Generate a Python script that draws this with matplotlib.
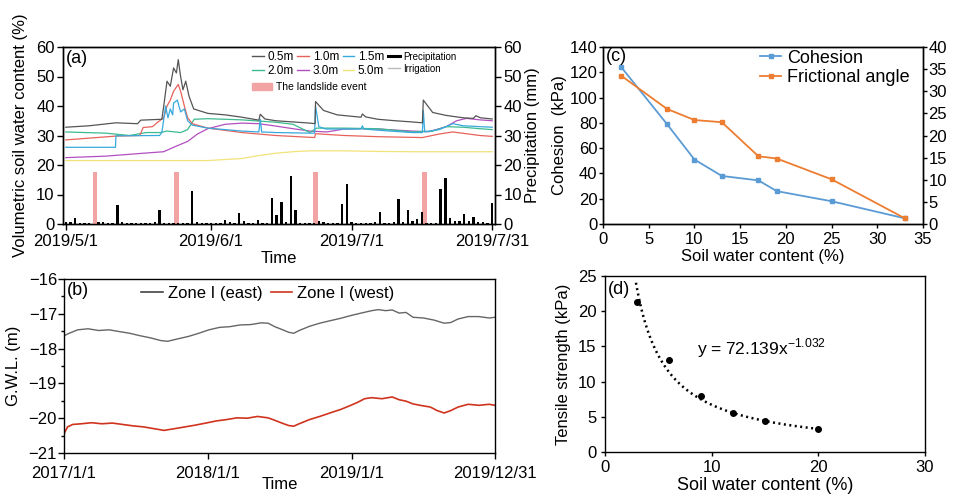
import numpy as np
import matplotlib
matplotlib.use('Agg')
import matplotlib.pyplot as plt
from matplotlib.lines import Line2D
from matplotlib.patches import Patch
from matplotlib.ticker import MultipleLocator, FixedLocator

plt.rcParams['font.family'] = ['Liberation Sans', 'DejaVu Sans']
plt.rcParams['axes.linewidth'] = 1.0

# ---------------- Panel (a): soil water content & precipitation ----------------
a_tick_days = [0, 31, 61, 91]
a_tick_labels = ['2019/5/1', '2019/6/1', '2019/7/1', '2019/7/31']

d05 = [0, 5, 10.7, 15.3, 16, 20.5, 20.9, 21.6, 22.3, 23, 23.6, 24.0, 24.5, 25, 25.6, 26.3, 27.3, 30.3,
       34, 37.6, 41.2, 41.5, 42.5, 44.8, 52.1, 53.2, 53.3, 55, 57.9, 63, 63.3, 64, 66.6, 70.3, 73.9,
       76.1, 76.3, 78.3, 81.2, 84.8, 87, 87.5, 88.5, 91]
v05 = [32.8, 33.3, 34.3, 34.0, 35.2, 35.5, 40.0, 48.4, 46.7, 52.9, 51.2, 55.7, 50.0, 45.5, 48.4, 43.3,
       39.0, 37.5, 37.0, 36.2, 35.2, 37.2, 35.6, 35.0, 34.2, 34.0, 41.5, 38.5, 37.0, 36.2, 37.3, 36.3,
       35.5, 35.0, 34.6, 34.3, 42.0, 37.8, 36.8, 36.0, 35.8, 36.7, 36.0, 35.6]

d10 = [0, 10.7, 15.8, 16.5, 18.5, 19.6, 20.9, 21.6, 22.3, 23, 24.0, 24.5, 25.3, 26, 27, 30.3, 37.6, 44.8,
       53.1, 53.3, 59.4, 66.6, 76.1, 79.7, 82.6, 88.4, 91]
v10 = [28.5, 29.8, 30.0, 32.7, 33.0, 34.5, 36, 40, 42, 45, 47.3, 45, 40, 36, 34, 32.5, 31, 30, 29.3, 30.6,
       30.0, 29.6, 29.3, 30.5, 31.2, 30.0, 29.7]

d15 = [0, 10.6, 10.7, 20.0, 20.5, 21.3, 21.8, 22.3, 22.8, 23.0, 23.8, 24.5, 25.3, 26.0, 27.0, 30.3, 37.6,
       41.2, 41.5, 41.8, 44.8, 52.1, 53.1, 53.3, 54.0, 55.5, 63.0, 63.3, 63.6, 66.6, 73.9, 76.1, 76.3,
       76.6, 79.7, 82.6, 84.8, 88.4, 91]
v15 = [26, 26, 29.9, 30, 31, 40, 36, 39, 37, 41, 42, 38, 39, 35, 33.5, 32.5, 31.5, 31.2, 35.5, 31.2, 31.0,
       30.8, 30.8, 40, 33, 32.2, 32.2, 33.3, 32.2, 31.8, 31.0, 31.0, 38.5, 31.2, 32.0, 34.0, 33.3, 33.0,
       32.8]

d20 = [0, 8.5, 13.6, 17.2, 20.1, 21.6, 24.5, 26.0, 27.4, 30.3, 37.6, 44.8, 48.5, 52.1, 53.5, 59.4, 66.6,
       73.9, 78.3, 81.2, 84.8, 88.4, 91]
v20 = [31.2, 30.8, 30.0, 31.0, 31.0, 31.5, 31.0, 32.0, 35.5, 35.7, 35.3, 34.5, 33.8, 31.0, 32.5, 32.5,
       32.3, 31.2, 31.5, 33.0, 32.8, 32.3, 32.0]

d30 = [0, 8.5, 15.8, 20.9, 23.0, 26.0, 28.1, 30.3, 34.0, 37.6, 41.2, 44.8, 48.5, 52.1, 55.7, 59.4, 63.0,
       66.6, 73.9, 77.5, 81.2, 83.4, 85.5, 88.4, 91]
v30 = [22.5, 23.0, 23.9, 24.5, 26.0, 28.0, 30.5, 32.3, 33.8, 34.2, 34.0, 33.2, 32.3, 31.5, 31.2, 32.2,
       32.3, 32.2, 31.5, 31.3, 33.0, 35.0, 35.8, 35.3, 35.0]

d50 = [0, 30.3, 37.6, 41.2, 44.8, 48.5, 52.1, 59.4, 66.6, 73.9, 81.2, 91]
v50 = [21.5, 21.5, 22.2, 23.2, 24.0, 24.5, 24.8, 24.8, 24.6, 24.5, 24.5, 24.5]

precip_mm = [0.6, 0.6, 2.1, 0.5, 0.2, 0.2, 0.0, 0.8, 0.6, 0.3, 0.3, 6.4, 0.6, 0.3, 0.2, 0.2, 0.2, 0.2,
             0.3, 0.6, 4.9, 0.3, 0.2, 0.2, 0.2, 0.3, 0.3, 11.2, 0.8, 0.4, 0.3, 0.3, 0.3, 0.4, 1.4, 0.6,
             0.3, 3.8, 0.9, 0.3, 0.3, 1.2, 0.4, 0.3, 8.8, 2.9, 7.6, 0.6, 16.2, 4.9, 0.3, 0.3, 0.3, 0.3,
             0.9, 0.8, 0.3, 0.2, 0.2, 6.7, 13.5, 0.6, 0.4, 0.3, 0.3, 0.3, 0.7, 4.0, 0.3, 0.3, 0.6, 8.6,
             0.6, 4.6, 1.0, 1.6, 3.9, 0.3, 0.3, 0.4, 11.8, 15.5, 2.1, 0.9, 1.0, 3.3, 0.9, 2.4, 0.6, 0.6,
             0.5, 7.1]
precip_days = list(range(len(precip_mm)))

landslide_days = [6.2, 23.6, 53.3, 76.6]
landslide_h = [17.5, 17.5, 17.5, 17.5]

# ---------------- Panel (b): groundwater level ----------------
b_tick_days = [0, 365, 730, 1094]
b_tick_labels = ['2017/1/1', '2018/1/1', '2019/1/1', '2019/12/31']

east_days = [0, 13, 35, 61, 88, 114, 140, 167, 193, 219, 246, 263, 289, 316, 342, 368, 395, 421, 447,
             474, 500, 518, 535, 553, 570, 583, 597, 623, 649, 675, 702, 728, 754, 781, 798, 816, 833,
             851, 868, 886, 912, 939, 965, 982, 1000, 1026, 1053, 1079, 1094]
east_gwl = [-17.63, -17.56, -17.46, -17.43, -17.48, -17.46, -17.51, -17.56, -17.63, -17.69, -17.77,
            -17.79, -17.72, -17.65, -17.56, -17.46, -17.39, -17.37, -17.32, -17.31, -17.26, -17.27,
            -17.37, -17.45, -17.53, -17.56, -17.48, -17.36, -17.27, -17.20, -17.13, -17.05, -16.98,
            -16.91, -16.88, -16.91, -16.89, -16.98, -16.96, -17.10, -17.12, -17.18, -17.27, -17.25,
            -17.15, -17.08, -17.08, -17.12, -17.10]

west_days = [0, 9, 22, 44, 70, 96, 123, 149, 175, 202, 228, 254, 281, 307, 333, 360, 386, 412, 439, 465,
             491, 518, 535, 553, 570, 583, 597, 623, 649, 675, 702, 728, 746, 763, 781, 807, 833, 851,
             868, 886, 904, 930, 947, 965, 982, 1000, 1026, 1053, 1079, 1094]
west_gwl = [-20.45, -20.25, -20.18, -20.16, -20.13, -20.16, -20.14, -20.18, -20.22, -20.25, -20.30,
            -20.35, -20.30, -20.25, -20.20, -20.14, -20.08, -20.04, -19.99, -20.00, -19.95, -19.99,
            -20.06, -20.14, -20.21, -20.23, -20.16, -20.04, -19.95, -19.85, -19.75, -19.63, -19.54,
            -19.44, -19.41, -19.44, -19.39, -19.47, -19.51, -19.59, -19.63, -19.68, -19.78, -19.85,
            -19.78, -19.68, -19.60, -19.63, -19.60, -19.63]

# ---------------- Panel (c): cohesion & frictional angle ----------------
c_swc = [2, 7, 10, 13, 17, 19, 25, 33]
cohesion = [124, 79, 51, 38, 34.5, 26, 18, 4.5]
fric_angle = [33.5, 26.0, 23.5, 23.0, 15.3, 14.8, 10.1, 1.3]

# ---------------- Panel (d): tensile strength ----------------
d_swc = [3, 6, 9, 12, 15, 20]
tensile = [21.3, 13.0, 7.9, 5.5, 4.4, 3.3]
fit_a = 72.139
fit_b = -1.032
fit_xmin, fit_xmax = 2.9, 20.0

# ---------------- Figure ----------------
fig = plt.figure(figsize=(9.54, 4.96), dpi=100)
W, H = 954.0, 496.0

def axpos(l, t, r, b):
    return [l / W, 1 - b / H, (r - l) / W, (b - t) / H]

col = {'0.5m': '#555555', '1.0m': '#e8625c', '1.5m': '#38a9dc',
       '2.0m': '#3dbb8f', '3.0m': '#b24fc0', '5.0m': '#f2e27a'}
pink = '#f2a3a3'
TS = 12

# ---- (a)
ax = fig.add_axes(axpos(63, 47, 495, 224))
ax.plot(d50, v50, color=col['5.0m'], lw=0.9)
ax.plot(d30, v30, color=col['3.0m'], lw=0.9)
ax.plot(d20, v20, color=col['2.0m'], lw=0.9)
ax.plot(d10, v10, color=col['1.0m'], lw=0.9)
ax.plot(d15, v15, color=col['1.5m'], lw=0.9)
ax.plot(d05, v05, color=col['0.5m'], lw=0.9)
ax.set_xlim(-0.6, 91.6)
ax.set_ylim(0, 60)
ax.yaxis.set_major_locator(MultipleLocator(10))
ax.xaxis.set_major_locator(FixedLocator(a_tick_days))
ax.set_xticklabels(a_tick_labels)
ax.tick_params(direction='out', length=4, width=1, labelsize=TS, pad=2)
ax.tick_params(axis='x', pad=3)
ax.set_ylabel('Volumetric soil water content (%)', fontsize=12)
ax.yaxis.set_label_coords(-0.081, 0.5)
ax.set_xlabel('Time', fontsize=12)
ax.xaxis.set_label_coords(0.5, -0.155)
ax.text(0.006, 0.985, '(a)', transform=ax.transAxes, ha='left', va='top', fontsize=13)

ax2 = ax.twinx()
ax2.bar(landslide_days, landslide_h, width=1.0, color=pink, zorder=2)
ax2.bar(precip_days, precip_mm, width=0.5, color='black', zorder=3)
ax2.set_ylim(0, 60)
ax2.yaxis.set_major_locator(MultipleLocator(10))
ax2.tick_params(direction='out', length=4, width=1, labelsize=TS, pad=2)
ax2.set_ylabel('Precipitation (mm)', fontsize=12)
ax2.yaxis.set_label_coords(1.069, 0.5)

hs = [Line2D([], [], color=col['0.5m'], lw=1), Line2D([], [], color=col['2.0m'], lw=1),
      Line2D([], [], color=col['1.0m'], lw=1), Line2D([], [], color=col['3.0m'], lw=1),
      Line2D([], [], color=col['1.5m'], lw=1), Line2D([], [], color=col['5.0m'], lw=1),
      Line2D([], [], color='black', lw=2.2), Line2D([], [], color='#bbbbbb', lw=1)]
ls = ['0.5m', '2.0m', '1.0m', '3.0m', '1.5m', '5.0m', 'Precipitation', 'Irrigation']
leg = ax.legend(hs, ls, ncol=4, loc='upper left', bbox_to_anchor=(0.4375, 0.975), frameon=False,
                fontsize=8.5, handlelength=1.0, handletextpad=0.3, columnspacing=0.3,
                labelspacing=0.15, borderpad=0, borderaxespad=0)
for t in leg.get_texts()[6:]:
    t.set_fontsize(7)
ax.add_artist(leg)
leg2 = ax.legend([Patch(color=pink)], ['The landslide event'], loc='upper left',
                 bbox_to_anchor=(0.4375, 0.80), frameon=False, fontsize=7.5, handlelength=1.9,
                 handleheight=0.6, handletextpad=0.4, borderpad=0, borderaxespad=0)

# ---- (b)
bx = fig.add_axes(axpos(64, 279, 495, 453))
bx.plot(east_days, east_gwl, color='#666666', lw=1.0)
bx.plot(west_days, west_gwl, color='#d0341f', lw=1.2)
bx.set_xlim(0, 1094)
bx.set_ylim(-21, -16)
bx.yaxis.set_major_locator(MultipleLocator(1))
bx.yaxis.set_minor_locator(MultipleLocator(0.5))
bx.xaxis.set_major_locator(FixedLocator(b_tick_days))
bx.set_xticklabels(b_tick_labels)
bx.tick_params(direction='out', length=4, width=1, labelsize=TS, pad=1)
bx.tick_params(axis='x', pad=5)
bx.tick_params(which='minor', direction='out', length=2.5, width=1)
bx.set_ylabel('G.W.L. (m)', fontsize=12)
bx.yaxis.set_label_coords(-0.1, 0.5)
bx.set_xlabel('Time', fontsize=12)
bx.xaxis.set_label_coords(0.5, -0.14)
bx.text(0.006, 0.985, '(b)', transform=bx.transAxes, ha='left', va='top', fontsize=13)
bx.legend([Line2D([], [], color='#444444', lw=1.2), Line2D([], [], color='#d0341f', lw=1.2)],
          ['Zone I (east)', 'Zone I (west)'], ncol=2, loc='upper left', bbox_to_anchor=(0.179, 0.96),
          frameon=False, fontsize=12, handlelength=1.3, handletextpad=0.3, columnspacing=0.5,
          borderpad=0, borderaxespad=0)

# ---- (c)
cx = fig.add_axes(axpos(603, 47, 923, 224))
cblue, corange = '#5b9bd5', '#ed7d31'
l1, = cx.plot(c_swc, cohesion, color=cblue, lw=1.3, marker='s', ms=3.5)
cx.set_xlim(0, 35)
cx.set_ylim(0, 140)
cx.xaxis.set_major_locator(MultipleLocator(5))
cx.yaxis.set_major_locator(MultipleLocator(20))
cx.tick_params(direction='out', length=3, width=1, labelsize=TS, pad=1)
cx.tick_params(axis='x', pad=3)
cx.set_ylabel('Cohesion  (kPa)', fontsize=12)
cx.yaxis.set_label_coords(-0.1125, 0.5)
cx.set_xlabel('Soil water content (%)', fontsize=12)
cx.xaxis.set_label_coords(0.5, -0.14)
cx.text(0.008, 0.995, '(c)', transform=cx.transAxes, ha='left', va='top', fontsize=13)
cx2 = cx.twinx()
l2, = cx2.plot(c_swc, fric_angle, color=corange, lw=1.3, marker='s', ms=3.5)
cx2.set_ylim(0, 40)
cx2.yaxis.set_major_locator(MultipleLocator(5))
cx2.tick_params(direction='out', length=3, width=1, labelsize=TS, pad=1)
cx.legend([l1, l2], ['Cohesion', 'Frictional angle'], loc='upper left', bbox_to_anchor=(0.49, 0.985),
          frameon=False, fontsize=13, handlelength=1.2, handletextpad=0.3, labelspacing=0.15,
          borderpad=0, borderaxespad=0)

# ---- (d)
dx = fig.add_axes(axpos(605, 276, 925, 452))
xf = np.linspace(fit_xmin, fit_xmax, 200)
dx.plot(xf, fit_a * xf ** fit_b, color='black', lw=1.8, linestyle=(0, (0.8, 1.4)))
dx.plot(d_swc, tensile, 'o', color='black', ms=4)
dx.set_xlim(0, 30)
dx.set_ylim(0, 25)
dx.xaxis.set_major_locator(MultipleLocator(10))
dx.yaxis.set_major_locator(MultipleLocator(5))
dx.tick_params(direction='out', length=3, width=1, labelsize=TS, pad=3)
dx.set_ylabel('Tensile strength (kPa)', fontsize=12)
dx.yaxis.set_label_coords(-0.106, 0.5)
dx.set_xlabel('Soil water content (%)', fontsize=13)
dx.xaxis.set_label_coords(0.5, -0.14)
dx.text(0.008, 0.97, '(d)', transform=dx.transAxes, ha='left', va='top', fontsize=13)
dx.text(8.6, 14.8, r'y = 72.139x$^{\mathregular{-1.032}}$', fontsize=12.5, ha='left', va='center')

fig.savefig('out.png', dpi=100, facecolor='white')
